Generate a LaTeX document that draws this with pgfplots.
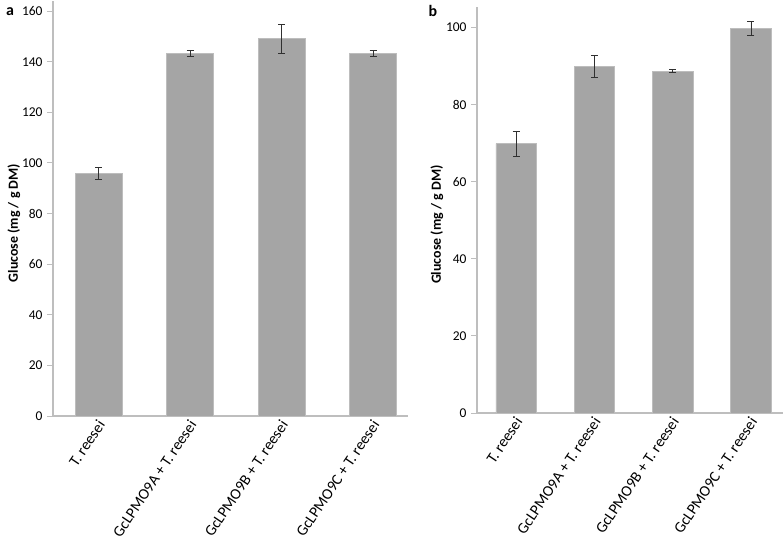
\documentclass[border=0pt]{standalone}
\usepackage{pgfplots}
\pgfplotsset{compat=1.18}
\usepackage{fontspec}
\setmainfont{Carlito}
\definecolor{barfill}{HTML}{A5A5A5}
\definecolor{baredge}{HTML}{BDBDBD}
\definecolor{axgray}{HTML}{BEBEBE}
\definecolor{errc}{HTML}{303030}
\pgfplotsset{
  panel/.style={
    scale only axis,
    anchor=south west,
    axis x line=bottom, axis y line=left,
    axis line style={-, draw=axgray, line width=1.1pt},
    ymin=0,
    xmin=-0.5,
    xtick={0,1,2,3},
    xticklabels={T. reesei, GcLPMO9A + T. reesei, GcLPMO9B + T. reesei, GcLPMO9C + T. reesei},
    x tick style={draw=none},
    extra x ticks={0.5,1.5,2.5},
    extra x tick labels={},
    extra x tick style={major tick length=5bp, tick style={draw=axgray, line width=1pt}, tick align=outside},
    y tick style={draw=axgray, line width=1pt},
    major tick length=6bp,
    tick align=outside,
    ytick pos=left,
    /pgf/number format/assume math mode=true,
    yticklabel style={font=\fontsize{13.5}{15}\selectfont, text=black, xshift=-1bp},
    xticklabel style={font=\fontsize{15.5}{17}\selectfont, text=black, rotate=56, anchor=east, xshift=5bp, yshift=-2bp},
    ylabel={Glucose (mg / g DM)},
    ybar, 
    error bars/y dir=both,
    error bars/y explicit,
    error bars/error mark options={rotate=90, mark size=3.5bp, line width=0.8pt, draw=errc},
    error bars/error bar style={line width=0.8pt, draw=errc},
  }
}
\begin{document}
\begin{tikzpicture}
\useasboundingbox (0,0) rectangle (784bp,541bp);
\begin{axis}[panel,
  at={(53bp,125bp)},
  width=355bp, height=415bp,
  xmax=3.38, ymax=164,
  ytick={0,20,40,60,80,100,120,140,160},
  bar width=47bp,
  every axis y label/.style={at={(axis description cs:-0.11,0.465)}, rotate=90, anchor=center, font=\bfseries\fontsize{14}{15}\selectfont},
]
\addplot[fill=barfill, draw=baredge, line width=0.6pt] coordinates {
  (0,95.9) +- (0,2.4)
  (1,143.3) +- (0,1.0)
  (2,149.2) +- (0,5.75)
  (3,143.3) +- (0,1.0)
};
\end{axis}
\begin{axis}[panel,
  at={(477bp,128bp)},
  width=306bp, height=405.8bp,
  xmax=3.41, ymax=105.3,
  ytick={0,20,40,60,80,100},
  bar width=40.5bp,
  every axis y label/.style={at={(axis description cs:-0.131,0.464)}, rotate=90, anchor=center, font=\bfseries\fontsize{14}{15}\selectfont},
]
\addplot[fill=barfill, draw=baredge, line width=0.6pt] coordinates {
  (0,69.9) +- (0,3.3)
  (1,90.0) +- (0,2.8)
  (2,88.7) +- (0,0.4)
  (3,99.9) +- (0,1.8)
};
\end{axis}
\node[font=\bfseries\fontsize{16}{18}\selectfont] at (10bp,529bp) {a};
\node[font=\bfseries\fontsize{16}{18}\selectfont] at (433bp,530bp) {b};
\end{tikzpicture}
\end{document}
